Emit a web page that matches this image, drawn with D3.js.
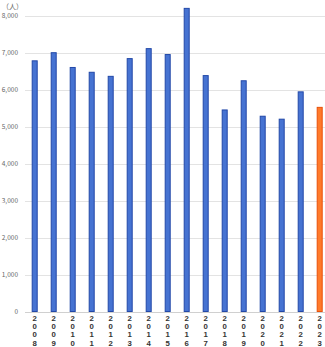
<!DOCTYPE html>
<html>
<head>
<meta charset="utf-8">
<script src="https://cdn.jsdelivr.net/npm/d3@7"></script>
<style>
  html, body { margin: 0; padding: 0; background: #fff; }
  svg { display: block; font-family: "Noto Sans CJK JP", "DejaVu Sans", sans-serif; }
</style>
</head>
<body>
<svg id="chart" width="325" height="347"></svg>
<script>
// Yearly counts (persons), 2008–2023
const years = ["2008","2009","2010","2011","2012","2013","2014","2015",
               "2016","2017","2018","2019","2020","2021","2022","2023"];
const counts = [6800, 7020, 6620, 6490, 6380, 6860, 7130, 6970,
                8220, 6400, 5470, 6260, 5300, 5220, 5960, 5540];
const yTicks = [0, 1000, 2000, 3000, 4000, 5000, 6000, 7000, 8000];
const unitLabel = "（人）";
const highlightYear = "2023";

const svg = d3.select("#chart");

const x = d3.scaleBand()
  .domain(years)
  .range([25.2, 329.2])
  .paddingInner(0.684)
  .paddingOuter(0.342);

const y = d3.scaleLinear()
  .domain([0, 8000])
  .range([311.5, 16]);

// Horizontal grid lines
svg.append("g")
  .selectAll("line")
  .data(yTicks.filter(t => t > 0))
  .join("line")
  .attr("x1", 25).attr("x2", 325)
  .attr("y1", d => Math.round(y(d)) + 0.5)
  .attr("y2", d => Math.round(y(d)) + 0.5)
  .attr("stroke", "#e3e3e3")
  .attr("stroke-width", 1);

// Baseline
svg.append("line")
  .attr("x1", 25).attr("x2", 325)
  .attr("y1", Math.round(y(0)) + 0.5).attr("y2", Math.round(y(0)) + 0.5)
  .attr("stroke", "#d0d0d0");

// Y axis labels
const fmt = d3.format(",");
svg.append("g")
  .selectAll("text")
  .data(yTicks)
  .join("text")
  .attr("x", 18)
  .attr("y", d => y(d))
  .attr("dy", "0.35em")
  .attr("text-anchor", "end")
  .attr("font-size", 6.5)
  .attr("fill", "#666")
  .text(d => fmt(d));

// Unit label
svg.append("text")
  .attr("x", 2)
  .attr("y", 7)
  .attr("dy", "0.35em")
  .attr("font-size", 7)
  .attr("fill", "#666")
  .text(unitLabel);

// Bars
svg.append("g")
  .selectAll("rect")
  .data(years.map((yr, i) => ({ yr, v: counts[i] })))
  .join("rect")
  .attr("x", d => x(d.yr) + 0.5)
  .attr("y", d => y(d.v) + 0.5)
  .attr("width", x.bandwidth() - 1)
  .attr("height", d => y(0) - y(d.v) - 0.5)
  .attr("fill", d => d.yr === highlightYear ? "#ff7a2a" : "#4673d2")
  .attr("stroke", d => d.yr === highlightYear ? "#e8500a" : "#2248a8")
  .attr("stroke-width", 1);

// X axis labels: each year's digits stacked vertically
const digits = years.flatMap(yr => yr.split("").map((ch, i) => ({ yr, ch, i })));
svg.append("g")
  .selectAll("text")
  .data(digits)
  .join("text")
  .attr("x", d => x(d.yr) + x.bandwidth() / 2)
  .attr("y", d => 320.5 + d.i * 8.4)
  .attr("text-anchor", "middle")
  .attr("font-family", "'Liberation Sans', Arial, sans-serif")
  .attr("font-size", 7.8)
  .attr("font-weight", "bold")
  .attr("fill", "#333")
  .text(d => d.ch);
</script>
</body>
</html>
